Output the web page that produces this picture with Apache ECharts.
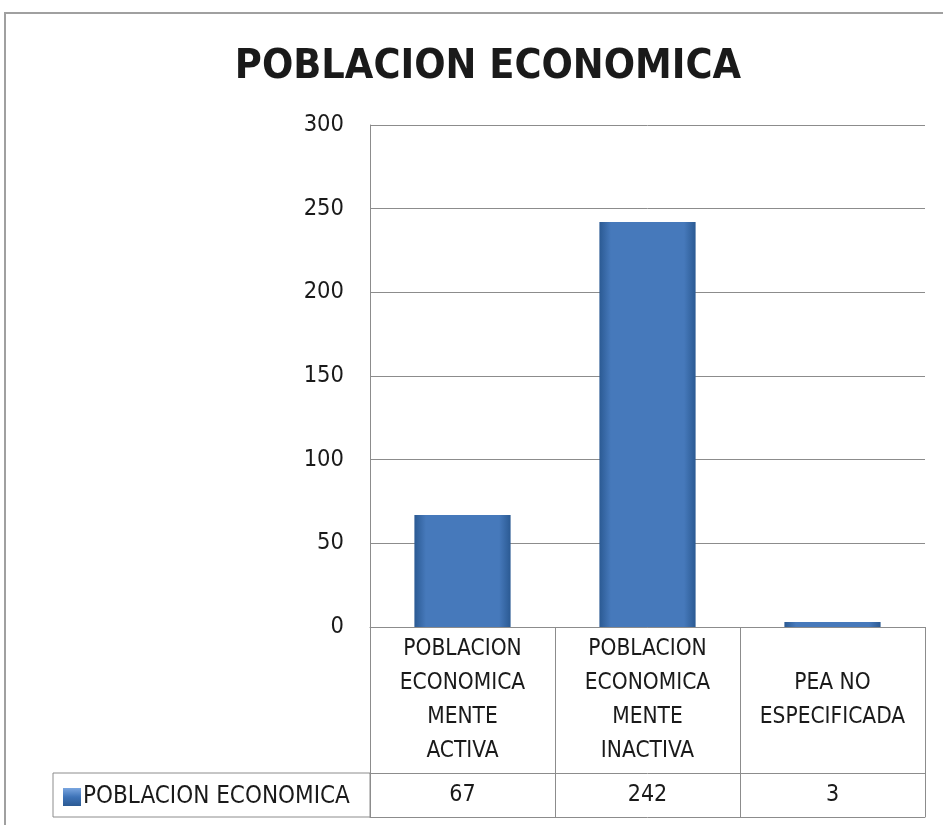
<!DOCTYPE html>
<html>
<head>
<meta charset="utf-8">
<script src="https://cdn.jsdelivr.net/npm/echarts@6/dist/echarts.min.js"></script>
<style>
  html, body { margin: 0; padding: 0; background: #fff; }
  #main { width: 943px; height: 825px; }
</style>
</head>
<body>
<div id="main"></div>
<script>
// chart data
const categories = [
  "POBLACION\nECONOMICA\nMENTE\nACTIVA",
  "POBLACION\nECONOMICA\nMENTE\nINACTIVA",
  "PEA NO\nESPECIFICADA"
];
const seriesName = "POBLACION ECONOMICA";
const values = [67, 242, 3];
const yTicks = { min: 0, max: 300, interval: 50 };

const chart = echarts.init(document.getElementById("main"), null, { renderer: "canvas" });
const font = "'Liberation Sans Narrow', 'DejaVu Sans Condensed', Lato, sans-serif";
const lineColor = "#8c8c8c";
const textColor = "#1a1a1a";

const barColor = new echarts.graphic.LinearGradient(0, 0, 1, 0, [
  { offset: 0, color: "#2b5a93" },
  { offset: 0.12, color: "#4679bb" },
  { offset: 0.88, color: "#4679bb" },
  { offset: 1, color: "#2b5a93" }
]);
const iconColor = new echarts.graphic.LinearGradient(0, 0, 0, 1, [
  { offset: 0, color: "#7aa6e0" },
  { offset: 0.5, color: "#3e73b8" },
  { offset: 1, color: "#2b5a93" }
]);

const options = {
  animation: false,
  textStyle: { fontFamily: font },
  title: {
    text: "POBLACION ECONOMICA",
    left: 483,
    top: 42,
    textAlign: "center",
    textStyle: { fontSize: 41, fontWeight: "bold", color: textColor, fontFamily: font }
  },
  legend: {
    data: [{ name: seriesName, itemStyle: { color: iconColor } }],
    left: 63,
    top: 785,
    padding: 0,
    icon: "rect",
    itemWidth: 18,
    itemHeight: 18,
    itemGap: 4,
    textStyle: { fontSize: 24, color: textColor, fontFamily: font, padding: [0, 0, 0, -3] }
  },
  grid: { left: 370, right: 18, top: 125, bottom: 198 },
  yAxis: {
    type: "value",
    min: yTicks.min,
    max: yTicks.max,
    interval: yTicks.interval,
    axisLine: { show: true, lineStyle: { color: lineColor } },
    axisTick: { show: false },
    splitLine: { lineStyle: { color: lineColor } },
    axisLabel: { fontSize: 23.5, color: textColor, margin: 26, fontFamily: font }
  },
  xAxis: [
    {
      type: "category",
      data: categories,
      position: "bottom",
      axisLine: { show: true, lineStyle: { color: lineColor } },
      axisTick: { show: true, length: 190, lineStyle: { color: lineColor } },
      axisLabel: {
        interval: 0,
        fontSize: 22.5,
        lineHeight: 34,
        color: textColor,
        margin: 73,
        verticalAlign: "middle",
        fontFamily: font
      }
    },
    {
      type: "category",
      data: values.map(String),
      position: "bottom",
      offset: 146,
      axisLine: { show: true, lineStyle: { color: lineColor } },
      axisTick: { show: false },
      axisLabel: {
        interval: 0,
        fontSize: 23,
        color: textColor,
        margin: 22,
        verticalAlign: "middle",
        fontFamily: font
      }
    },
    {
      type: "category",
      data: categories,
      position: "bottom",
      offset: 190,
      axisLine: { show: true, lineStyle: { color: lineColor } },
      axisTick: { show: false },
      axisLabel: { show: false }
    }
  ],
  graphic: [
    {
      type: "rect",
      shape: { x: 5, y: 13, width: 1000, height: 900 },
      style: { fill: "none", stroke: "#a0a0a0", lineWidth: 2 },
      silent: true
    },
    {
      type: "rect",
      shape: { x: 53, y: 773, width: 317, height: 44 },
      style: { fill: "none", stroke: lineColor, lineWidth: 1 },
      silent: true
    }
  ],
  series: [
    {
      name: seriesName,
      type: "bar",
      data: values,
      barWidth: "52%",
      itemStyle: { color: barColor }
    }
  ]
};
chart.setOption(options);
</script>
</body>
</html>
